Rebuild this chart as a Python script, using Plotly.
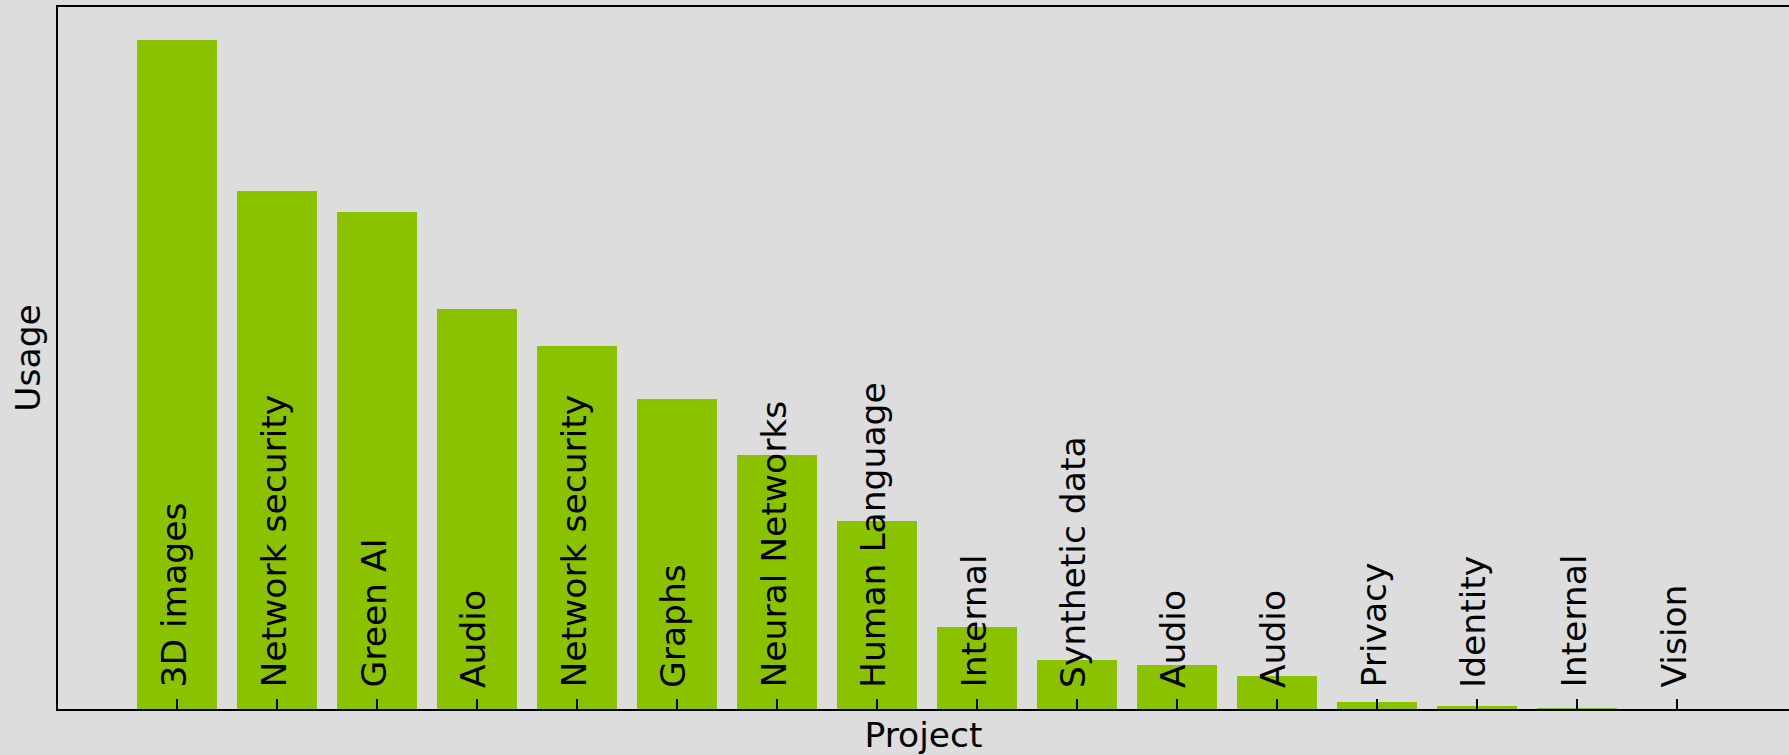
import plotly.graph_objects as go

projects = ["3D images", "Network security", "Green AI", "Audio", "Network security",
            "Graphs", "Neural Networks", "Human Language", "Internal", "Synthetic data",
            "Audio", "Audio", "Privacy", "Identity", "Internal", "Vision"]
usage = [669, 518, 497, 400, 363, 310, 254, 188, 82, 49, 44, 33, 7, 3, 1, 0]

positions = list(range(len(projects)))
BAR = "rgb(138,194,0)"
BG = "#dddddd"
FONT = "DejaVu Sans"
FS = 34.5

fig = go.Figure()
fig.add_trace(go.Bar(x=positions, y=usage, width=0.8, marker=dict(color=BAR, line=dict(width=0)),
                     showlegend=False, hoverinfo="skip"))

for p, name in zip(positions, projects):
    fig.add_annotation(x=p, y=0, xref="x", yref="y", text=name, textangle=-90,
                       showarrow=False, xanchor="center", yanchor="bottom", yshift=19, xshift=-4,
                       font=dict(family=FONT, size=FS, color="black"))

ymax = max(usage) * 1.05
fig.update_layout(
    width=1789, height=755,
    margin=dict(l=58, r=0, t=7, b=46, autoexpand=False),
    paper_bgcolor=BG, plot_bgcolor=BG,
    font=dict(family=FONT, size=FS, color="black"),
    bargap=0,
    xaxis=dict(range=[-1.19, 16.12], tickmode="array", tickvals=positions, ticktext=["" for _ in positions],
               ticks="inside", ticklen=10, tickwidth=2, tickcolor="black",
               showline=True, linecolor="black", linewidth=2, mirror=True,
               showgrid=False, zeroline=False, automargin=False,
               title=dict(text="Project", standoff=11, font=dict(family=FONT, size=FS))),
    yaxis=dict(range=[0, ymax], showticklabels=False, ticks="", showgrid=False, zeroline=False,
               showline=True, linecolor="black", linewidth=2, automargin=False,
               title=dict(text="Usage", standoff=5, font=dict(family=FONT, size=FS))),
)

fig.write_html("out.html", config={"displayModeBar": False},
               post_script="document.body.style.margin='0';document.body.style.background='#dddddd';document.body.style.overflow='hidden';")
